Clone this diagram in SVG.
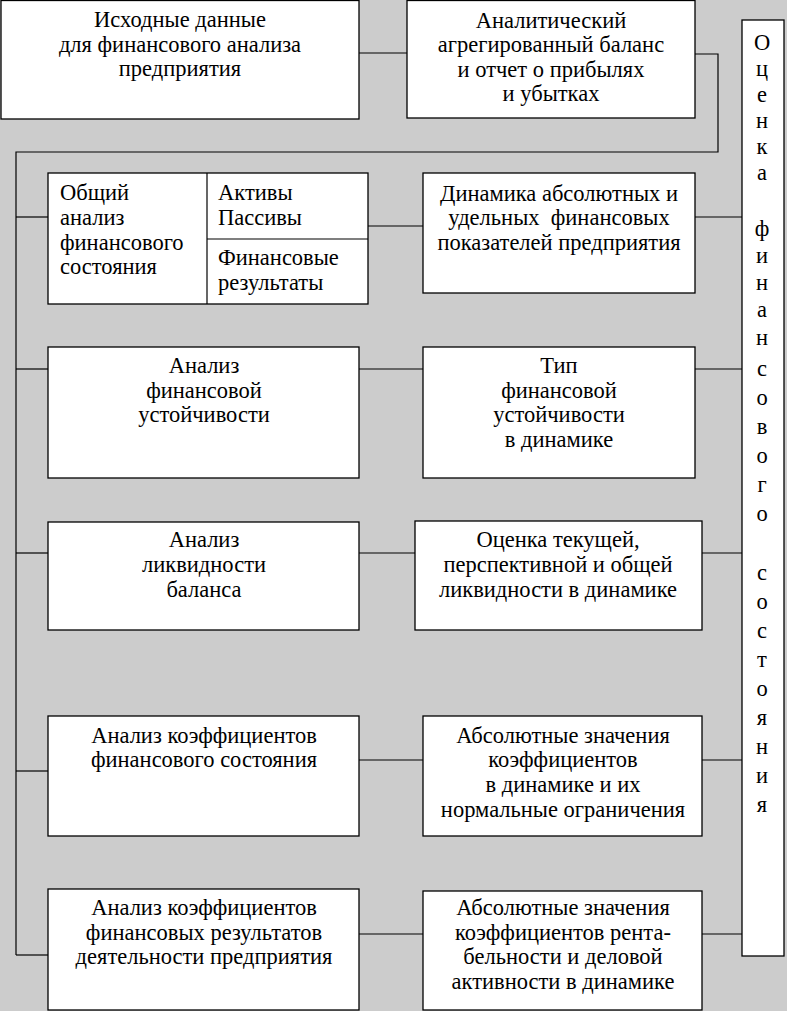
<svg xmlns="http://www.w3.org/2000/svg" width="787" height="1011" viewBox="0 0 787 1011">
<style>
.box{fill:#fff;stroke:#000;stroke-width:1.3}
.ln{fill:none;stroke:#000;stroke-width:1.2}
text{font-family:"Liberation Serif","Times New Roman",serif;font-size:22.5px;fill:#000;white-space:pre}
.c{text-anchor:middle}
.v{text-anchor:middle}
</style>
<rect x="0" y="0" width="787" height="1011" fill="#cccccc"/>
<g id="connectors">
<line class="ln" x1="359" y1="53" x2="407" y2="53"/>
<polyline class="ln" points="695,54 718,54 718,152 16,152 16,955"/>
<line class="ln" x1="16" y1="217" x2="48" y2="217"/>
<line class="ln" x1="16" y1="369" x2="48" y2="369"/>
<line class="ln" x1="16" y1="553" x2="48" y2="553"/>
<line class="ln" x1="16" y1="771" x2="48" y2="771"/>
<line class="ln" x1="16" y1="955" x2="48" y2="955"/>
<line class="ln" x1="368" y1="226" x2="423" y2="226"/>
<line class="ln" x1="359" y1="369" x2="423" y2="369"/>
<line class="ln" x1="359" y1="553" x2="415" y2="553"/>
<line class="ln" x1="359" y1="760" x2="423" y2="760"/>
<line class="ln" x1="359" y1="934" x2="423" y2="934"/>
<line class="ln" x1="695" y1="217" x2="742" y2="217"/>
<line class="ln" x1="695" y1="369" x2="742" y2="369"/>
<line class="ln" x1="702" y1="553" x2="742" y2="553"/>
<line class="ln" x1="702" y1="760" x2="742" y2="760"/>
<line class="ln" x1="702" y1="934" x2="742" y2="934"/>
</g>
<g id="n-source">
<rect class="box" x="1" y="0.5" width="358" height="118.5"/>
<text class="c" x="180" y="27">Исходные данные</text>
<text class="c" x="180" y="52">для финансового анализа</text>
<text class="c" x="180" y="76">предприятия</text>
</g>
<g id="n-balance">
<rect class="box" x="407" y="0.5" width="288" height="117.5"/>
<text class="c" x="551" y="28">Аналитический</text>
<text class="c" x="551" y="52">агрегированный баланс</text>
<text class="c" x="551" y="77">и отчет о прибылях</text>
<text class="c" x="551" y="101">и убытках</text>
</g>
<g id="n-general">
<rect class="box" x="48" y="173" width="320" height="131"/>
<line class="ln" x1="207" y1="173" x2="207" y2="304"/>
<line class="ln" x1="207" y1="239" x2="368" y2="239"/>
<text x="60" y="200">Общий</text>
<text x="60" y="225">анализ</text>
<text x="60" y="250">финансового</text>
<text x="60" y="274">состояния</text>
<text x="218" y="200">Активы</text>
<text x="218" y="225">Пассивы</text>
<text x="218" y="265">Финансовые</text>
<text x="218" y="290">результаты</text>
</g>
<g id="n-dynamics">
<rect class="box" x="423" y="173" width="272" height="120"/>
<text class="c" x="559" y="201">Динамика абсолютных и</text>
<text class="c" x="559" y="225">удельных  финансовых</text>
<text class="c" x="559" y="250">показателей предприятия</text>
</g>
<g id="n-stability">
<rect class="box" x="48" y="347" width="311" height="131"/>
<text class="c" x="204" y="373">Анализ</text>
<text class="c" x="204" y="398">финансовой</text>
<text class="c" x="204" y="422">устойчивости</text>
</g>
<g id="n-type">
<rect class="box" x="423" y="347" width="272" height="131"/>
<text class="c" x="559" y="373">Тип</text>
<text class="c" x="559" y="398">финансовой</text>
<text class="c" x="559" y="422">устойчивости</text>
<text class="c" x="559" y="447">в динамике</text>
</g>
<g id="n-liquidity">
<rect class="box" x="48" y="522" width="311" height="108"/>
<text class="c" x="204" y="547">Анализ</text>
<text class="c" x="204" y="572">ликвидности</text>
<text class="c" x="204" y="597">баланса</text>
</g>
<g id="n-liq-eval">
<rect class="box" x="415" y="521" width="287" height="109"/>
<text class="c" x="558" y="547">Оценка текущей,</text>
<text class="c" x="558" y="572">перспективной и общей</text>
<text class="c" x="558" y="597">ликвидности в динамике</text>
</g>
<g id="n-coef">
<rect class="box" x="48" y="716" width="311" height="120"/>
<text class="c" x="204" y="743">Анализ коэффициентов</text>
<text class="c" x="204" y="767">финансового состояния</text>
</g>
<g id="n-coef-vals">
<rect class="box" x="423" y="716" width="279" height="120"/>
<text class="c" x="563" y="743">Абсолютные значения</text>
<text class="c" x="563" y="767">коэффициентов</text>
<text class="c" x="563" y="792">в динамике и их</text>
<text class="c" x="563" y="817">нормальные ограничения</text>
</g>
<g id="n-results">
<rect class="box" x="48" y="889" width="311" height="121"/>
<text class="c" x="204" y="915">Анализ коэффициентов</text>
<text class="c" x="204" y="940">финансовых результатов</text>
<text class="c" x="204" y="964">деятельности предприятия</text>
</g>
<g id="n-rent">
<rect class="box" x="423" y="891" width="279" height="119"/>
<text class="c" x="563" y="915">Абсолютные значения</text>
<text class="c" x="563" y="940">коэффициентов рента-</text>
<text class="c" x="563" y="964">бельности и деловой</text>
<text class="c" x="563" y="989">активности в динамике</text>
</g>
<g id="n-assessment">
<rect class="box" x="742" y="20" width="42" height="936"/>
<text class="v" x="762" y="50">О</text>
<text class="v" x="762" y="76">ц</text>
<text class="v" x="762" y="102">е</text>
<text class="v" x="762" y="128">н</text>
<text class="v" x="762" y="154">к</text>
<text class="v" x="762" y="180">а</text>
<text class="v" x="762" y="236">ф</text>
<text class="v" x="762" y="263">и</text>
<text class="v" x="762" y="290">н</text>
<text class="v" x="762" y="317">а</text>
<text class="v" x="762" y="345">н</text>
<text class="v" x="762" y="376">с</text>
<text class="v" x="762" y="405">о</text>
<text class="v" x="762" y="434">в</text>
<text class="v" x="762" y="463">о</text>
<text class="v" x="762" y="492">г</text>
<text class="v" x="762" y="521">о</text>
<text class="v" x="762" y="580">с</text>
<text class="v" x="762" y="609">о</text>
<text class="v" x="762" y="638">с</text>
<text class="v" x="762" y="667">т</text>
<text class="v" x="762" y="696">о</text>
<text class="v" x="762" y="725">я</text>
<text class="v" x="762" y="754">н</text>
<text class="v" x="762" y="783">и</text>
<text class="v" x="762" y="812">я</text>
</g>
</svg>
